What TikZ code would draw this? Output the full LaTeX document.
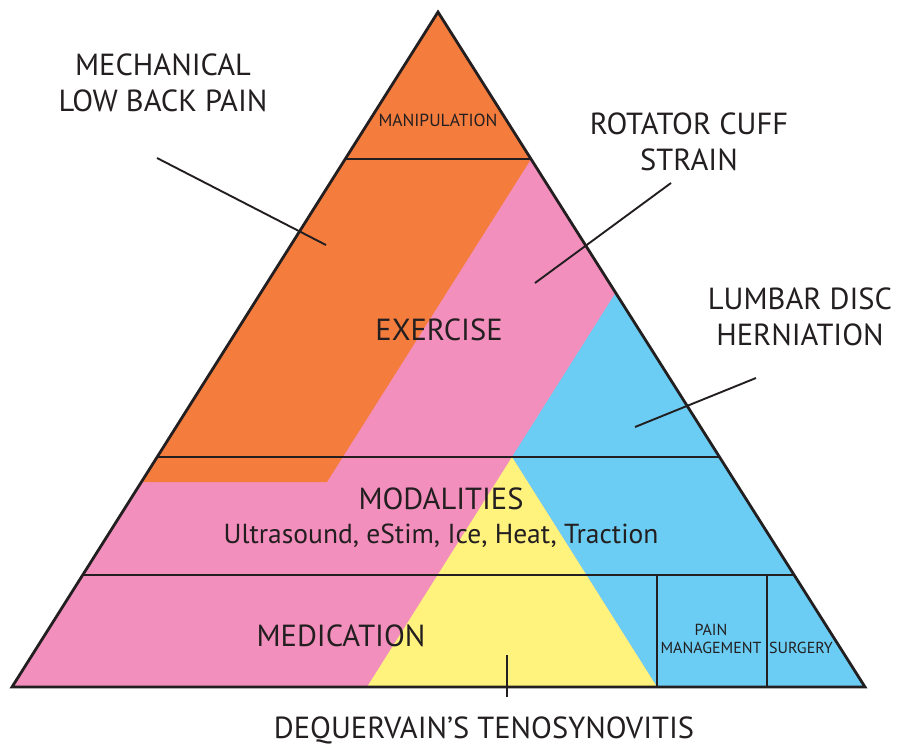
\documentclass[tikz,border=0pt]{standalone}
\usepackage{fontspec}
\setmainfont{PT Sans}
\usepackage{xcolor}
\usetikzlibrary{calc}

\definecolor{ink}{HTML}{231F20}
\definecolor{tOrange}{HTML}{F47C3D}
\definecolor{tPink}{HTML}{F38FBD}
\definecolor{tBlue}{HTML}{6BCDF3}
\definecolor{tYellow}{HTML}{FFF27D}

\begin{document}
\begin{tikzpicture}[x=1pt, y=-1pt,
        edge/.style={draw=ink, line width=2.8pt},
        tier/.style={draw=ink, line width=2.3pt},
        leader/.style={draw=ink, line width=1.9pt},
        biglbl/.style={font=\fontsize{30.5}{36}\selectfont, text=ink, align=center, inner sep=0pt},
        midlbl/.style={font=\fontsize{27.5}{30}\selectfont, text=ink, align=center, inner sep=0pt},
        smalllbl/.style={font=\fontsize{16}{18}\selectfont, text=ink, align=center, inner sep=0pt},
    ]
    \useasboundingbox (0,0) rectangle (897,745);
    % pyramid corners
    \coordinate (apex) at (438,12);
    \coordinate (bl) at (12,687);
    \coordinate (br) at (865,687);
    % tier lines on the two sides
    \coordinate (l1) at ($(apex)!0.2178!(bl)$);
    \coordinate (r1) at ($(apex)!0.2178!(br)$);
    \coordinate (l2) at ($(apex)!0.6593!(bl)$);
    \coordinate (r2) at ($(apex)!0.6593!(br)$);
    \coordinate (l3) at ($(apex)!0.8341!(bl)$);
    \coordinate (r3) at ($(apex)!0.8341!(br)$);
    % colour bands
    \coordinate (oL) at ($(apex)!0.6963!(bl)$);
    \coordinate (oR) at (327,482);
    \coordinate (bT) at ($(apex)!0.416!(br)$);
    \coordinate (yT) at (512,457);
    \coordinate (yL) at (367,687);
    \coordinate (yR) at (657,687);
    \fill[tPink] (apex) -- (bl) -- (br) -- cycle;
    \fill[tOrange] (apex) -- (r1) -- (oR) -- (oL) -- cycle;
    \fill[tBlue] (bT) -- (br) -- (yR) -- (yT) -- cycle;
    \fill[tYellow] (yT) -- (yR) -- (yL) -- cycle;
    % tiers
    \draw[tier] (l1) -- (r1);
    \draw[tier] (l2) -- (r2);
    \draw[tier] (l3) -- (r3);
    \coordinate (v1t) at (657,575);
    \coordinate (v1b) at (657,687);
    \coordinate (v2t) at (767,575);
    \coordinate (v2b) at (767,687);
    \draw[tier] (v1t) -- (v1b);
    \draw[tier] (v2t) -- (v2b);
    \draw[edge] (apex) -- (bl) -- (br) -- cycle;
    % tier names
    \node[smalllbl, font=\fontsize{17.5}{20}\selectfont] (manip) at (438,120) {MANIPULATION};
    \node[biglbl] (exer) at (439,330) {EXERCISE};
    \node[biglbl, anchor=base] (moda) at (441,509) {MODALITIES};
    \node[midlbl, anchor=base] (modlist) at (441,543) {Ultrasound, eStim, Ice, Heat, Traction};
    \node[biglbl] (medi) at (341,636) {MEDICATION};
    \node[smalllbl] (painm) at (711,639) {PAIN\\MANAGEMENT};
    \node[smalllbl] (surg) at (801,648) {SURGERY};
    % conditions and their leaders
    \node[biglbl] (mlbp) at (163,83) {MECHANICAL\\LOW BACK PAIN};
    \node[biglbl] (rcs) at (689,142) {ROTATOR CUFF\\STRAIN};
    \node[biglbl] (ldh) at (800,317) {LUMBAR DISC\\HERNIATION};
    \node[biglbl] (dqt) at (484,730) {DEQUERVAIN’S TENOSYNOVITIS};
    \coordinate (mlbp-a) at (157,158);
    \coordinate (mlbp-b) at (326,245);
    \coordinate (rcs-a) at (671,183);
    \coordinate (rcs-b) at (535,283);
    \coordinate (ldh-a) at (756,378);
    \coordinate (ldh-b) at (635,427);
    \coordinate (dqt-a) at (507,697);
    \coordinate (dqt-b) at (507,655);
    \draw[leader] (mlbp-a) -- (mlbp-b);
    \draw[leader] (rcs-a) -- (rcs-b);
    \draw[leader] (ldh-a) -- (ldh-b);
    \draw[leader] (dqt-a) -- (dqt-b);
\end{tikzpicture}
\end{document}
